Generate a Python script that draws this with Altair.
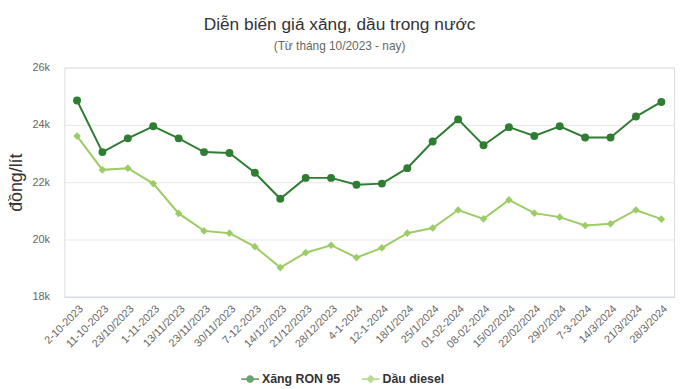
import altair as alt
import pandas as pd

dates = ["2-10-2023", "11-10-2023", "23/10/2023", "1-11-2023", "13/11/2023", "23/11/2023",
         "30/11/2023", "7-12-2023", "14/12/2023", "21/12/2023", "28/12/2023", "4-1-2024",
         "12-1-2024", "18/1/2024", "25/1/2024", "01-02-2024", "08-02-2024", "15/02/2024",
         "22/02/2024", "29/2/2024", "7-3-2024", "14/3/2024", "21/3/2024", "28/3/2024"]

ron95 = [24850, 23050, 23530, 23950, 23530, 23050, 23020, 22330, 21420, 22150, 22150, 21910,
         21950, 22490, 23420, 24190, 23290, 23920, 23610, 23950, 23560, 23560, 24290, 24800]

diesel = [23610, 22430, 22490, 21950, 20910, 20300, 20220, 19750, 19020, 19540, 19800, 19370,
          19710, 20220, 20400, 21030, 20720, 21380, 20920, 20780, 20490, 20550, 21030, 20710]

series_names = ["Xăng RON 95", "Dầu diesel"]
colors = ["#2E7D32", "#9CCC65"]

rows = []
for d, v in zip(dates, ron95):
    rows.append({"date": d, "series": series_names[0], "price": v})
for d, v in zip(dates, diesel):
    rows.append({"date": d, "series": series_names[1], "price": v})
df = pd.DataFrame(rows)

font = "Liberation Sans, Arial, sans-serif"

x = alt.X("date:N", sort=dates, title=None,
          scale=alt.Scale(type="point", padding=0.5),
          axis=alt.Axis(labelAngle=-45, labelFontSize=11, labelColor="#666666", labelFont=font,
                        ticks=False, domainColor="#ccd6eb", domainWidth=1, labelPadding=6,
                        labelAlign="right", labelBaseline="top"))
y = alt.Y("price:Q", title="đồng/lít",
          scale=alt.Scale(domain=[18000, 26000], nice=False, zero=False),
          axis=alt.Axis(values=[18000, 20000, 22000, 24000, 26000],
                        labelExpr="datum.value / 1000 + 'k'", labelFontSize=11,
                        labelColor="#666666", labelFont=font, domain=False, ticks=False,
                        labelPadding=15, gridColor="#e6e6e6", titleFontSize=18,
                        titleFont=font, titleFontWeight="normal", titleColor="#333333",
                        titlePadding=7))

layers = []
for name, col, shp, sz in zip(series_names, colors, ["circle", "diamond"], [64, 60]):
    sub = alt.Chart(df).transform_filter(alt.datum.series == name)
    layers.append(sub.mark_line(strokeWidth=2, color=col).encode(x=x, y=y))
    layers.append(sub.mark_point(filled=True, size=sz, opacity=1, shape=shp, color=col)
                  .encode(x=x, y=y))

# legend symbols: a thin filled bar with the marker on top (all filled, same winding)
legend_shapes = [
    "M-1,-0.1H1V0.1H-1Z"
    "M-0.44,0A0.44,0.44,0,1,1,0.44,0A0.44,0.44,0,1,1,-0.44,0Z",
    "M-1,-0.1H1V0.1H-1Z"
    "M0,-0.5L0.5,0L0,0.5L-0.5,0Z",
]

leg = alt.Legend(title=None, orient="none", direction="horizontal", legendX=179, legendY=306,
                 symbolSize=324, symbolStrokeWidth=0, labelFontSize=12.5,
                 labelFontWeight="bold", labelColor="#333333", labelFont=font,
                 labelOffset=3, columnPadding=21)

# legend-only layer: no rows drawn, legend entries come from the explicit scale domain
legend_layer = alt.Chart(df).transform_filter("false").mark_point(filled=True).encode(
    x=x, y=y,
    color=alt.Color("series:N", scale=alt.Scale(domain=series_names, range=colors), legend=leg),
    shape=alt.Shape("series:N", scale=alt.Scale(domain=series_names, range=legend_shapes),
                    legend=leg),
)
layers.append(legend_layer)

chart = alt.layer(*layers).properties(
    width=617, height=232,
    title=alt.TitleParams(
        text="Diễn biến giá xăng, dầu trong nước",
        subtitle="(Từ tháng 10/2023 - nay)",
        anchor="middle", dx=-30, offset=10,
        font=font, fontSize=17.5,
        fontWeight="normal", color="#333333",
        subtitleFont=font, subtitleFontSize=12,
        subtitleColor="#666666", subtitlePadding=8,
    ),
    autosize=alt.AutoSizeParams(type="none"),
    padding={"left": 57, "top": 58, "right": 5, "bottom": 89},
).configure_view(stroke=None).configure(background="white")

chart.save("out.html", embed_options={"renderer": "svg", "actions": False})
